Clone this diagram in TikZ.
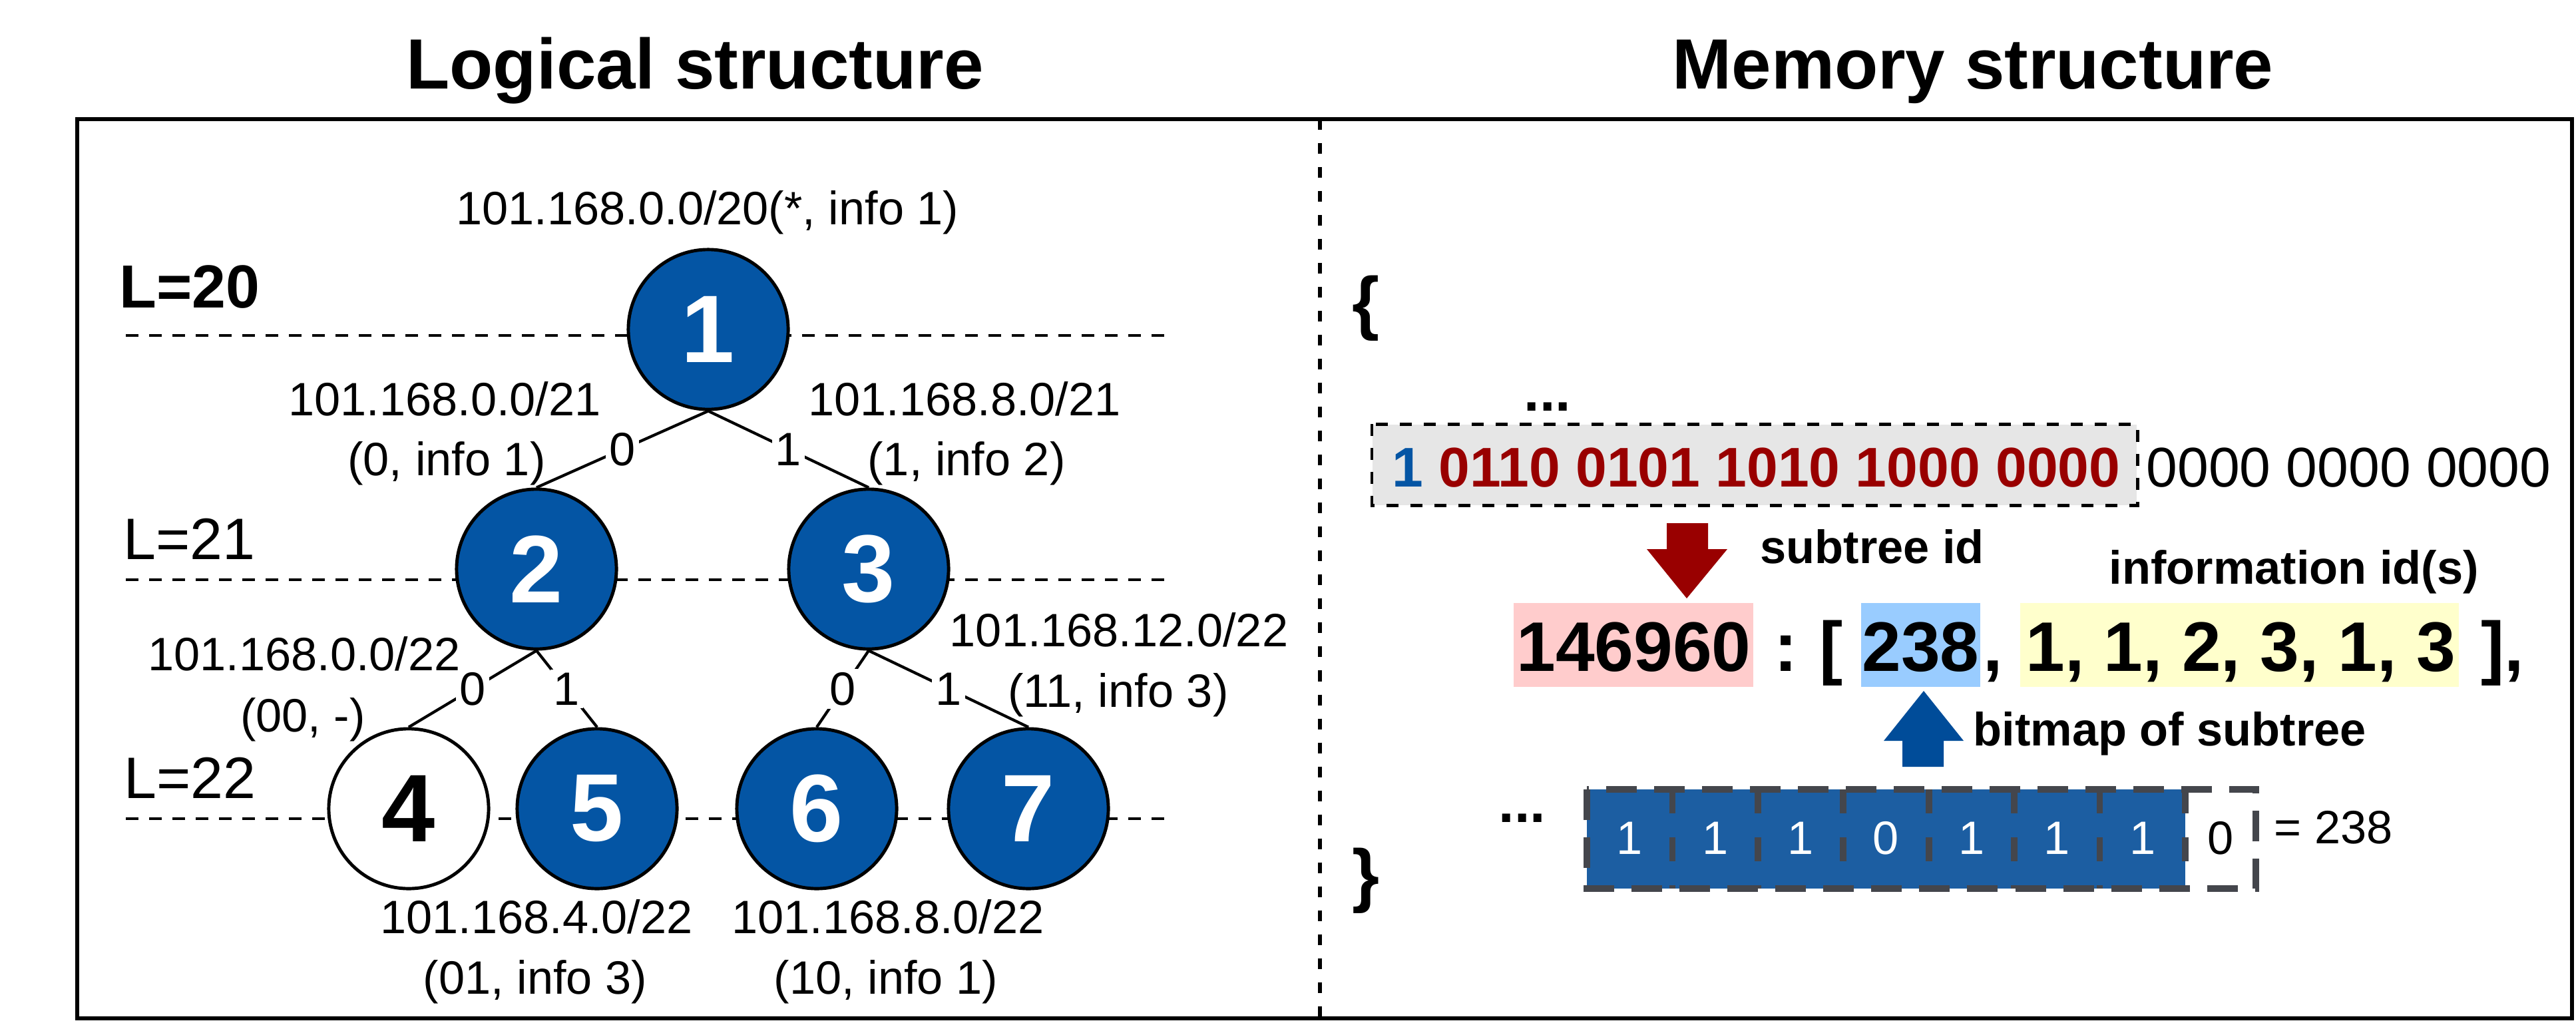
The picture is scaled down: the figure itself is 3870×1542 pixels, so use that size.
\documentclass[tikz,border=0pt]{standalone}
\usepackage{fontspec}
\setmainfont{Liberation Sans}
\definecolor{nodeblue}{HTML}{0455A4}
\definecolor{darkred}{HTML}{990000}
\definecolor{arrowblue}{HTML}{004C99}
\definecolor{bitblue}{HTML}{1C5EA2}
\definecolor{framegray}{HTML}{44464C}
\definecolor{boxgray}{HTML}{E6E6E6}
\definecolor{pinkbox}{HTML}{FFCCCC}
\definecolor{bluebox}{HTML}{99CCFF}
\definecolor{yellowbox}{HTML}{FFFFCC}
\begin{document}
\begin{tikzpicture}[x=0.01cm,y=-0.01cm,
  tnode/.style={circle, draw=black, line width=1.4pt, minimum size=2.4cm, inner sep=0pt,
    fill=nodeblue, text=white, font=\fontsize{41}{45}\selectfont\bfseries},
  ipl/.style={anchor=base, inner sep=0pt, font=\fontsize{20}{24}\selectfont},
  elab/.style={fill=white, inner sep=1.5pt, font=\fontsize{20}{24}\selectfont},
  lvl/.style={line width=1.4pt, dash pattern=on 0.19cm off 0.16cm},
  tedge/.style={line width=1.2pt},
  ttl/.style={anchor=base, inner sep=0pt, font=\fontsize{30.4}{34}\selectfont\bfseries},
  bigt/.style={anchor=base, inner sep=0pt, font=\fontsize{30}{34}\selectfont\bfseries},
  midt/.style={anchor=base west, inner sep=0pt, font=\fontsize{20}{24}\selectfont\bfseries},
  bitd/.style={inner sep=0pt, text=white, font=\fontsize{20}{24}\selectfont},
  bitframe/.style={draw=framegray, line width=2.8pt, dash pattern=on 0.46cm off 0.26cm},
  bitsep/.style={draw=framegray, line width=2.8pt, dash pattern=on 0.36cm off 0.36cm},
  hbox/.style={draw=none, inner sep=0pt}
]
\useasboundingbox (0,0) rectangle (3870,1542);

% titles
\node[ttl] (t1) at (1044,133) {Logical structure};
\node[ttl] (t2) at (2964,133) {Memory structure};

% frame
\draw[line width=1.5pt] (116,179) rectangle (3864,1530);
\draw[line width=1.5pt, dash pattern=on 0.16cm off 0.20cm] (1983,179) -- (1983,1530);

% level lines
\draw[lvl] (189,504) -- (1755,504);
\draw[lvl] (189,871) -- (1755,871);
\draw[lvl] (189,1230) -- (1755,1230);
\node[anchor=base west, inner sep=0pt, font=\fontsize{26}{30}\selectfont\bfseries] (L20) at (179,462) {L=20};
\node[anchor=base west, inner sep=0pt, font=\fontsize{25}{30}\selectfont] (L21) at (185,840) {L=21};
\node[anchor=base west, inner sep=0pt, font=\fontsize{25}{30}\selectfont] (L22) at (186,1199) {L=22};

% tree nodes
\node[tnode] (n1) at (1064,495) {1};
\node[tnode] (n2) at (806,855) {2};
\node[tnode] (n3) at (1305,855) {3};
\node[tnode, fill=white, text=black] (n4) at (614,1215) {4};
\node[tnode] (n5) at (897,1215) {5};
\node[tnode] (n6) at (1227,1215) {6};
\node[tnode] (n7) at (1545,1215) {7};

% edges
\draw[tedge] (n1.south) -- node[elab] {0} (n2.north);
\draw[tedge] (n1.south) -- node[elab] {1} (n3.north);
\draw[tedge] (n2.south) -- node[elab] {0} (n4.north);
\draw[tedge] (n2.south) -- node[elab] {1} (n5.north);
\draw[tedge] (n3.south) -- node[elab] {0} (n6.north);
\draw[tedge] (n3.south) -- node[elab] {1} (n7.north);

% prefix labels
\node[ipl] (ip1) at (1063,337) {101.168.0.0/20(*, info 1)};
\node[ipl] (ip2a) at (668,624) {101.168.0.0/21};
\node[ipl] (ip2b) at (671,714) {(0, info 1)};
\node[ipl] (ip3a) at (1449,624) {101.168.8.0/21};
\node[ipl] (ip3b) at (1452,714) {(1, info 2)};
\node[ipl] (ip4a) at (457,1007) {101.168.0.0/22};
\node[ipl] (ip4b) at (455,1099) {(00, -)};
\node[ipl] (ip7a) at (1681,971) {101.168.12.0/22};
\node[ipl] (ip7b) at (1680,1062) {(11, info 3)};
\node[ipl] (ip5a) at (806,1402) {101.168.4.0/22};
\node[ipl] (ip5b) at (804,1493) {(01, info 3)};
\node[ipl] (ip6a) at (1334,1402) {101.168.8.0/22};
\node[ipl] (ip6b) at (1331,1493) {(10, info 1)};

% memory structure
\node[inner sep=0pt, font=\fontsize{30}{34}\selectfont\bfseries] (lb) at (2052,463) {\{};
\node[inner sep=0pt, font=\fontsize{30}{34}\selectfont\bfseries] (rb) at (2052,1323) {\}};
\node[anchor=base, inner sep=0pt, font=\fontsize{24}{28}\selectfont\bfseries] (dots1) at (2325,617) {...};

\node[hbox, fill=boxgray, minimum width=11.48cm, minimum height=1.21cm] (gbox) at (2636,698.5) {};
\draw[line width=1.4pt, dash pattern=on 0.18cm off 0.18cm] (gbox.north west) rectangle (gbox.south east);
\node[anchor=base west, inner sep=0pt, font=\fontsize{23.9}{28}\selectfont\bfseries] (binhi) at (2091,731)
  {\textcolor{nodeblue}{1} \textcolor{darkred}{0110 0101 1010 1000 0000}};
\node[anchor=base west, inner sep=0pt, font=\fontsize{23.9}{28}\selectfont] (binlo) at (3224,731) {0000 0000 0000};

% red arrow
\fill[darkred] (2504,786) -- (2566,786) -- (2566,825) -- (2595,825) -- (2534,899) -- (2474,825) -- (2504,825) -- cycle;
\node[midt] (stid) at (2644,846) {subtree id};
\node[midt] (infid) at (3168,877) {information id(s)};

% key : value row
\node[hbox, fill=pinkbox, minimum width=3.6cm, minimum height=1.26cm] (pk) at (2454,969) {};
\node[hbox, fill=bluebox, minimum width=1.79cm, minimum height=1.26cm] (bk) at (2885.5,969) {};
\node[hbox, fill=yellowbox, minimum width=6.59cm, minimum height=1.26cm] (yk) at (3364.5,969) {};
\node[bigt] (key) at (2454.5,1008) {146960};
\node[bigt] (colon) at (2683,1008) {:};
\node[bigt] (lbr) at (2751,1008) {[};
\node[bigt] (bm) at (2885.5,1008) {238};
\node[bigt, anchor=base west] (cm) at (2979,1008) {,};
\node[bigt, anchor=base west] (ids) at (3043,1008) {1, 1, 2, 3, 1, 3};
\node[bigt, anchor=base west] (rbr) at (3727,1008) {],};

% blue arrow
\fill[arrowblue] (2858,1152) -- (2920,1152) -- (2920,1113) -- (2950,1113) -- (2890,1038) -- (2830,1113) -- (2858,1113) -- cycle;
\node[midt] (bmt) at (2964,1120) {bitmap of subtree};

% bitmap
\node[anchor=base, inner sep=0pt, font=\fontsize{24}{28}\selectfont\bfseries] (dots2) at (2287,1235) {...};
\fill[bitblue] (2384,1186) rectangle (3283,1335);
\foreach \d [count=\i] in {1,1,1,0,1,1,1} {
  \node[bitd] (bit\i) at ({2384+128.4*(\i-0.5)},1259) {\d};
}
\node[bitd, text=black] (bit8) at (3336,1259) {0};
\foreach \i in {1,...,7} {
  \draw[bitsep] ({2384+128.4*\i},1186) -- ({2384+128.4*\i},1335);
}
\draw[bitframe] (2384,1186) rectangle (3389,1335);
\node[anchor=base west, inner sep=0pt, font=\fontsize{20}{24}\selectfont] (eq) at (3416,1267) {= 238};
\end{tikzpicture}
\end{document}
